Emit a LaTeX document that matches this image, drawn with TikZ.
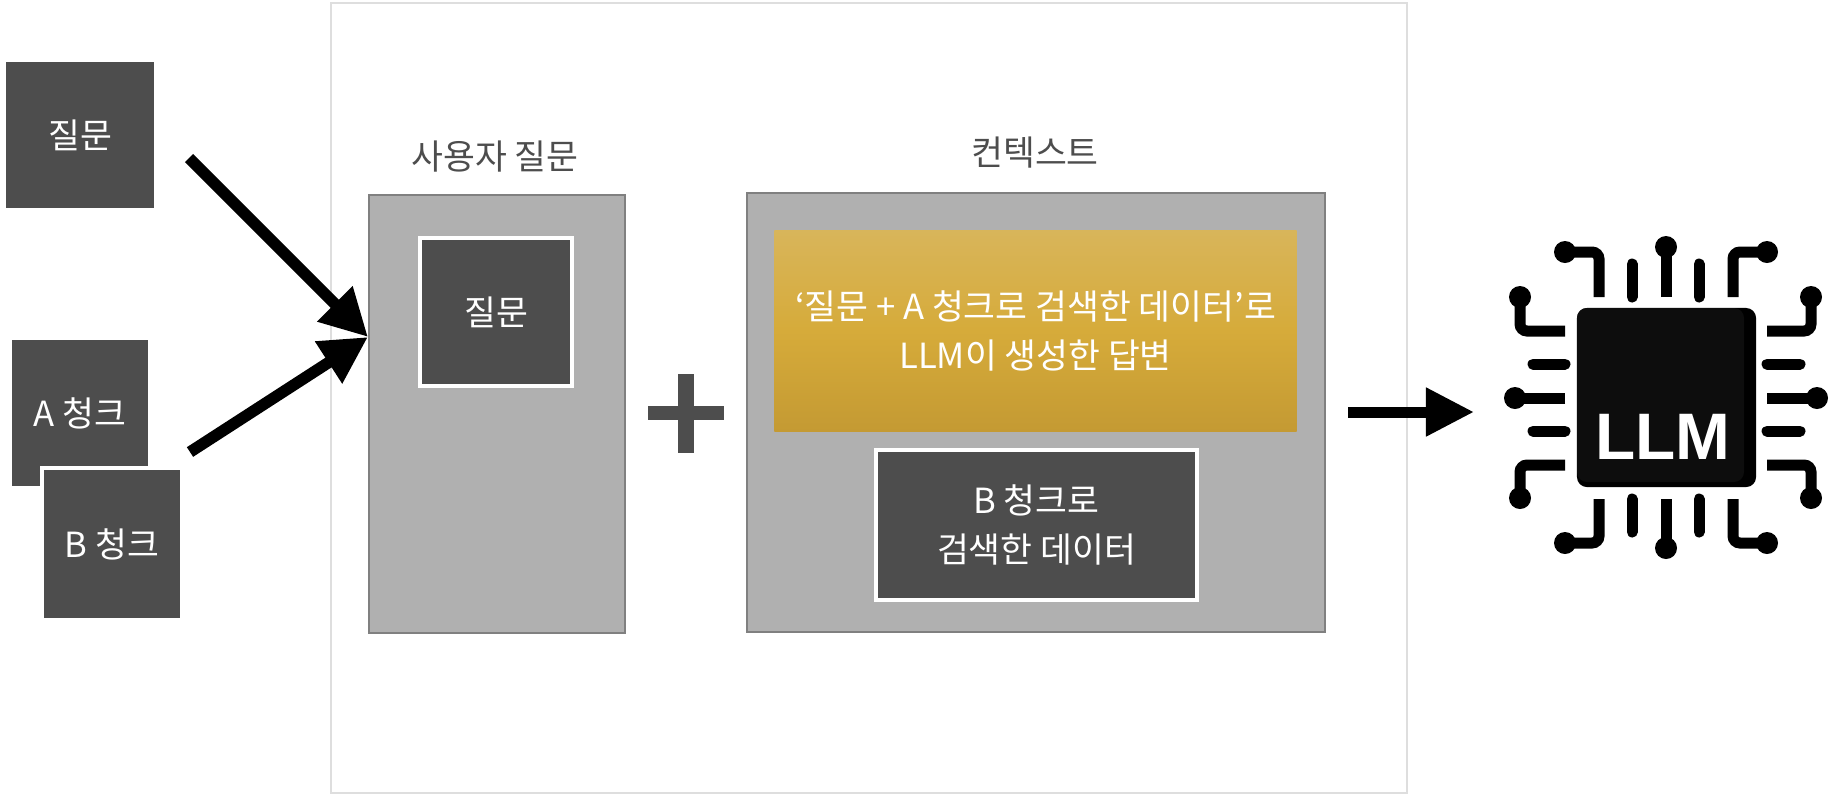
\documentclass[tikz,border=0pt]{standalone}
\usepackage{fontspec}
\setmainfont{Noto Sans CJK KR}
\newfontfamily\llmfont{Liberation Sans}
\usepackage{xcolor}
\usetikzlibrary{arrows.meta,positioning}
\definecolor{darkbox}{RGB}{77,77,77}
\definecolor{greybox}{RGB}{176,176,176}
\definecolor{greyline}{RGB}{128,128,128}
\definecolor{frameline}{RGB}{222,222,222}
\definecolor{chipface}{RGB}{13,13,13}
\definecolor{goldtop}{RGB}{216,181,90}
\definecolor{goldmid}{RGB}{214,171,58}
\definecolor{goldbot}{RGB}{196,154,51}
\tikzset{
  bodytext/.style={font=\fontsize{9.85}{13.7}\selectfont, align=center},
  darkcard/.style={fill=darkbox, text=white, bodytext, inner sep=0pt, outer sep=0pt},
  whitecard/.style={darkcard, draw=white, line width=0.04cm},
  greypanel/.style={fill=greybox, draw=greyline, line width=0.02cm, inner sep=0pt, outer sep=0pt},
  paneltitle/.style={text=darkbox, bodytext},
  fatarrow/.style={line width=0.115cm, -{Triangle[length=0.47cm,width=0.47cm]}},
  chippin/.style={line width=0.11cm, rounded corners=0.07cm},
  pinball/.style={black, radius=0.11cm}
}

\begin{document}
\begin{tikzpicture}[x=0.01cm, y=-0.01cm]
  \useasboundingbox (0,0) rectangle (1834,796);

  % Outer frame
  \node[draw=frameline, line width=0.02cm, minimum width=10.76cm, minimum height=7.9cm, inner sep=0pt] (frame) at (869,398) {};

  % --- Inputs ---
  \node[darkcard, minimum width=1.48cm, minimum height=1.46cm] (question) at (80,135) {질문};
  \node[darkcard, minimum width=1.36cm, minimum height=1.46cm] (chunka) at (80,413) {A 청크};
  \node[whitecard, minimum width=1.40cm, minimum height=1.52cm] (chunkb) at (112,544) {B 청크};

  % --- User question panel ---
  \node[greypanel, minimum width=2.56cm, minimum height=4.38cm] (userpanel) at (497,414) {};
  \node[paneltitle] (usertitle) at (495,157) {사용자 질문};
  \node[whitecard, minimum width=1.52cm, minimum height=1.48cm] (userq) at (496,312) {질문};

  % Plus sign
  \fill[darkbox] (648,406) rectangle (724,420);
  \fill[darkbox] (678,374) rectangle (694,453);

  % --- Context panel ---
  \node[greypanel, minimum width=5.78cm, minimum height=4.39cm] (contextpanel) at (1036,412.5) {};
  \node[paneltitle] (contexttitle) at (1035,153) {컨텍스트};
  \node[top color=goldtop, bottom color=goldbot, middle color=goldmid, text=white, bodytext, minimum width=5.22cm, minimum height=2.0cm, inner sep=0pt] (answer) at (1035.5,331) {‘질문 + A 청크로 검색한 데이터’로\\LLM이 생성한 답변};
  \node[whitecard, minimum width=3.2cm, minimum height=1.50cm] (chunkbdata) at (1036.5,525) {B 청크로\\검색한 데이터};

  % Arrows
  \coordinate (questionout) at (189,158);
  \coordinate (chunkout) at (190,452);
  \coordinate (usertip) at (368,337);
  \coordinate (contextout) at (1348,412);
  \coordinate (chiptip) at (1474,412);
  \draw[fatarrow] (questionout) -- (usertip);
  \draw[fatarrow] (chunkout) -- (usertip);
  \draw[line width=0.11cm, -{Triangle[length=0.48cm,width=0.46cm]}] (contextout) -- (chiptip);

  % --- LLM chip ---
  \node[fill=black, rounded corners=0.1cm, minimum width=1.79cm, minimum height=1.79cm, inner sep=0pt] (chip) at (1666.5,397.5) {};
  \fill[chipface, rounded corners=0.1cm] (1577,308) rectangle (1744,482);
  \node[text=white, inner sep=0pt, font=\llmfont\bfseries\fontsize{18.7}{19}\selectfont] (llm) at (1663,437) {LLM};

  % Short pins
  \foreach \px in {1632,1699} {
    \draw[chippin, line cap=round] (\px,297) -- (\px,264);
    \draw[chippin, line cap=round] (\px,499) -- (\px,532);
  }
  \foreach \py in {364,431} {
    \draw[chippin, line cap=round] (1565,\py) -- (1533,\py);
    \draw[chippin, line cap=round] (1767,\py) -- (1800,\py);
  }

  % Straight pins
  \draw[chippin] (1666,297) -- (1666,247);
  \draw[chippin] (1666,499) -- (1666,548);
  \draw[chippin] (1565,398) -- (1515,398);
  \draw[chippin] (1767,398) -- (1817,398);
  \fill[pinball] (1666,247) circle;
  \fill[pinball] (1666,548) circle;
  \fill[pinball] (1515,398) circle;
  \fill[pinball] (1817,398) circle;

  % Corner pins
  \draw[chippin] (1599,297) -- (1599,252) -- (1565,252);
  \draw[chippin] (1733,297) -- (1733,252) -- (1767,252);
  \draw[chippin] (1599,499) -- (1599,543) -- (1565,543);
  \draw[chippin] (1733,499) -- (1733,543) -- (1767,543);
  \draw[chippin] (1565,331) -- (1520,331) -- (1520,297);
  \draw[chippin] (1767,331) -- (1811,331) -- (1811,297);
  \draw[chippin] (1565,465) -- (1520,465) -- (1520,498);
  \draw[chippin] (1767,465) -- (1811,465) -- (1811,498);
  \foreach \bx/\by in {1565/252,1767/252,1565/543,1767/543,1520/297,1811/297,1520/498,1811/498} {
    \fill[pinball] (\bx,\by) circle;
  }
\end{tikzpicture}
\end{document}
